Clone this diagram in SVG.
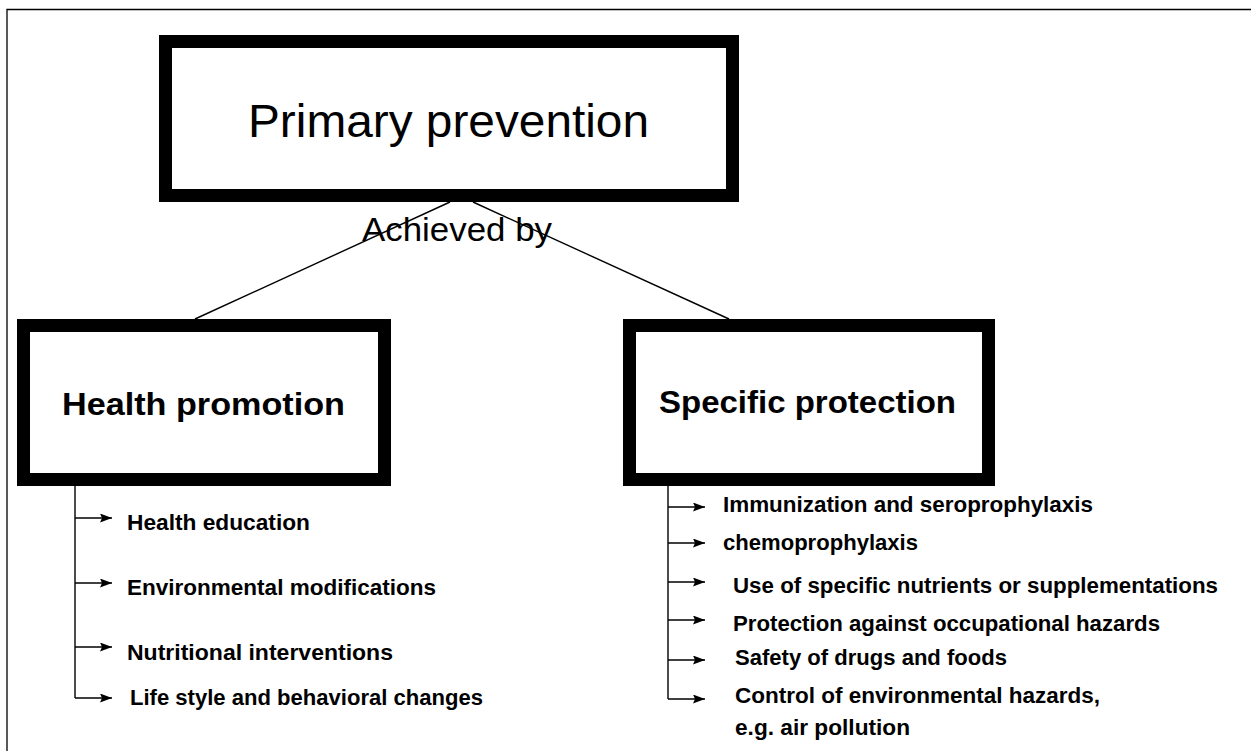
<svg xmlns="http://www.w3.org/2000/svg" width="1254" height="751" viewBox="0 0 1254 751">
  <style>
    .box { fill: #ffffff; stroke: #000000; stroke-width: 13; }
    .conn { fill: none; stroke: #000000; stroke-width: 1.4; }
    .frame { fill: none; stroke: #000000; stroke-width: 1.3; }
    .title { font-family: "Liberation Sans", Arial, sans-serif; font-size: 47px; fill: #000; }
    .sub { font-family: "Liberation Sans", Arial, sans-serif; font-size: 34px; fill: #000; }
    .head { font-family: "Liberation Sans", Arial, sans-serif; font-size: 32px; font-weight: bold; fill: #000; }
    .item { font-family: "Liberation Sans", Arial, sans-serif; font-size: 22px; font-weight: bold; fill: #000; }
  </style>
  <defs>
    <marker id="arr" viewBox="0 0 12 9" markerUnits="userSpaceOnUse" markerWidth="12" markerHeight="9" refX="12" refY="4.5" orient="auto">
      <path d="M0 0 L12 4.5 L0 9 L2 4.5 Z" fill="#000"/>
    </marker>
  </defs>
  <rect width="1254" height="751" fill="#ffffff"/>
  <path class="frame" d="M7 751 V9.5 H1251"/>

  <g id="connectors">
    <line class="conn" x1="450" y1="202" x2="195" y2="319"/>
    <line class="conn" x1="473" y1="202" x2="729" y2="319"/>
    <path class="conn" d="M75 486 V698"/>
    <path class="conn" d="M75 518 H112" marker-end="url(#arr)"/>
    <path class="conn" d="M75 583 H112" marker-end="url(#arr)"/>
    <path class="conn" d="M75 647 H112" marker-end="url(#arr)"/>
    <path class="conn" d="M75 698 H112" marker-end="url(#arr)"/>
    <path class="conn" d="M668 486 V699"/>
    <path class="conn" d="M668 507 H705" marker-end="url(#arr)"/>
    <path class="conn" d="M668 543 H705" marker-end="url(#arr)"/>
    <path class="conn" d="M668 582 H705" marker-end="url(#arr)"/>
    <path class="conn" d="M668 620 H705" marker-end="url(#arr)"/>
    <path class="conn" d="M668 660 H705" marker-end="url(#arr)"/>
    <path class="conn" d="M668 699 H705" marker-end="url(#arr)"/>
  </g>

  <g id="primary-prevention">
    <rect class="box" x="165.5" y="41.5" width="567" height="154"/>
    <text class="title" x="248" y="137" textLength="401" lengthAdjust="spacingAndGlyphs">Primary prevention</text>
  </g>

  <g id="achieved-by">
    <text class="sub" x="362" y="241" textLength="190" lengthAdjust="spacingAndGlyphs">Achieved by</text>
  </g>

  <g id="health-promotion">
    <rect class="box" x="23.5" y="325.5" width="361" height="154"/>
    <text class="head" x="62" y="415" textLength="283" lengthAdjust="spacingAndGlyphs">Health promotion</text>
  </g>

  <g id="specific-protection">
    <rect class="box" x="629.5" y="325.5" width="359" height="154"/>
    <text class="head" x="659" y="413" textLength="297" lengthAdjust="spacingAndGlyphs">Specific protection</text>
  </g>

  <g id="health-items">
    <text class="item" x="127" y="530" textLength="183" lengthAdjust="spacingAndGlyphs">Health education</text>
    <text class="item" x="127" y="595" textLength="309" lengthAdjust="spacingAndGlyphs">Environmental modifications</text>
    <text class="item" x="127" y="660" textLength="266" lengthAdjust="spacingAndGlyphs">Nutritional interventions</text>
    <text class="item" x="130" y="705" textLength="353" lengthAdjust="spacingAndGlyphs">Life style and behavioral changes</text>
  </g>

  <g id="protection-items">
    <text class="item" x="723" y="512" textLength="370" lengthAdjust="spacingAndGlyphs">Immunization and seroprophylaxis</text>
    <text class="item" x="723" y="550" textLength="195" lengthAdjust="spacingAndGlyphs">chemoprophylaxis</text>
    <text class="item" x="733" y="593" textLength="485" lengthAdjust="spacingAndGlyphs">Use of specific nutrients or supplementations</text>
    <text class="item" x="733" y="631" textLength="427" lengthAdjust="spacingAndGlyphs">Protection against occupational hazards</text>
    <text class="item" x="735" y="665" textLength="272" lengthAdjust="spacingAndGlyphs">Safety of drugs and foods</text>
    <text class="item" x="735" y="703" textLength="365" lengthAdjust="spacingAndGlyphs">Control of environmental hazards,</text>
    <text class="item" x="735" y="735" textLength="175" lengthAdjust="spacingAndGlyphs">e.g. air pollution</text>
  </g>
</svg>
